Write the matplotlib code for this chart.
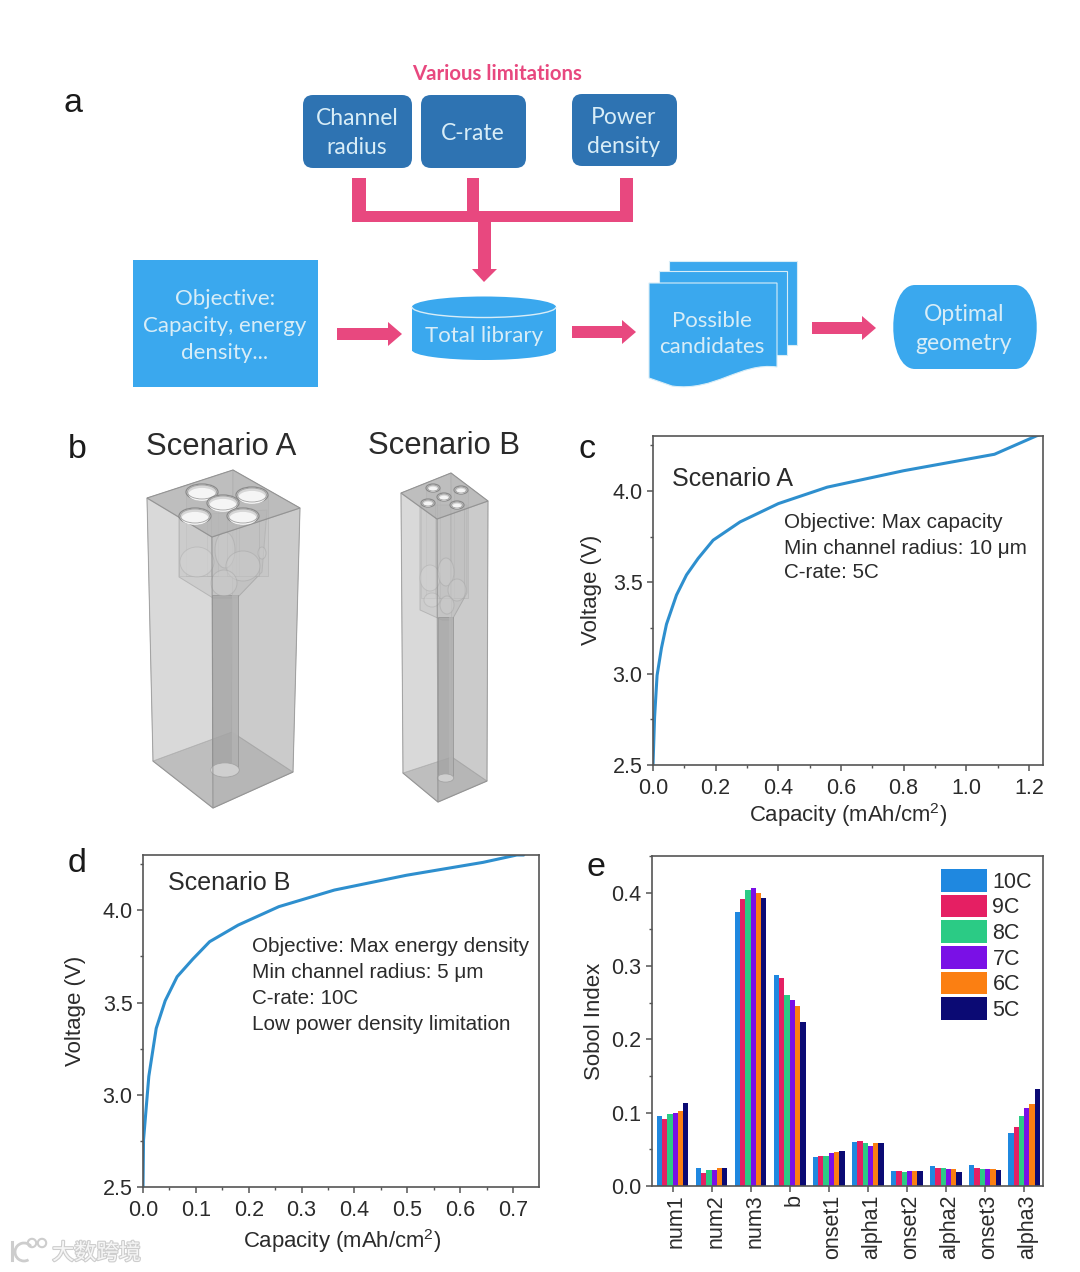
import numpy as np
import matplotlib
matplotlib.use('Agg')
import matplotlib.pyplot as plt
import matplotlib.patheffects as pe
from matplotlib.patches import Polygon, FancyBboxPatch, Ellipse, Rectangle, PathPatch, Circle, Arc
from matplotlib.path import Path
from matplotlib.transforms import ScaledTranslation

plt.rcParams['font.family'] = ['Liberation Sans', 'DejaVu Sans']
plt.rcParams['mathtext.default'] = 'regular'

W, H = 1080, 1272

# panel c curve
cap_a = [0.0, 0.005, 0.013, 0.027, 0.043, 0.075, 0.107, 0.144, 0.192, 0.278, 0.40, 0.556, 0.80, 1.09, 1.223, 1.24]
volt_a = [2.5, 2.76, 2.99, 3.14, 3.27, 3.43, 3.54, 3.63, 3.73, 3.83, 3.93, 4.02, 4.11, 4.20, 4.30, 4.31]

# panel d curve
cap_b = [0.0, 0.001, 0.011, 0.025, 0.042, 0.0645, 0.094, 0.126, 0.18, 0.257, 0.362, 0.498, 0.643, 0.707, 0.72]
volt_b = [2.5, 2.755, 3.1, 3.36, 3.51, 3.64, 3.735, 3.83, 3.92, 4.02, 4.11, 4.19, 4.26, 4.30, 4.30]

# panel e bars
params = ['num1', 'num2', 'num3', 'b', 'onset1', 'alpha1', 'onset2', 'alpha2', 'onset3', 'alpha3']
rates = ['10C', '9C', '8C', '7C', '6C', '5C']
rate_colors = ['#1f88e0', '#e51f63', '#2bcb85', '#7a10e6', '#fb7f12', '#0b0a74']
sobol_10c = [0.096, 0.025, 0.374, 0.288, 0.040, 0.060, 0.021, 0.027, 0.028, 0.072]
sobol_9c = [0.092, 0.018, 0.391, 0.283, 0.041, 0.061, 0.020, 0.025, 0.025, 0.080]
sobol_8c = [0.098, 0.022, 0.404, 0.261, 0.041, 0.058, 0.019, 0.024, 0.023, 0.095]
sobol_7c = [0.100, 0.022, 0.406, 0.254, 0.045, 0.054, 0.020, 0.023, 0.023, 0.107]
sobol_6c = [0.102, 0.024, 0.399, 0.245, 0.047, 0.058, 0.021, 0.023, 0.023, 0.112]
sobol_5c = [0.113, 0.025, 0.393, 0.223, 0.048, 0.058, 0.020, 0.019, 0.022, 0.132]

LINE = '#2e8fce'
PINK = '#e8487f'
DARK = '#2e73b2'
LIGHT = '#3aa8ee'
BOXTXT = '#d8edf7'
SPINE = '#555555'
TXT = '#2b2b2b'


def px_axes(fig, left, top, right, bottom):
    return fig.add_axes([left / W, 1 - bottom / H, (right - left) / W, (bottom - top) / H])


def style_axes(ax, xpad=5):
    for s in ax.spines.values():
        s.set_color(SPINE)
        s.set_linewidth(1.2)
    ax.tick_params(which='major', length=4.5, width=1.1, color=SPINE, labelsize=15.5, labelcolor=TXT)
    ax.tick_params(which='minor', length=2.5, width=1.0, color=SPINE)
    ax.tick_params(axis='x', which='major', pad=xpad)
    ax.tick_params(axis='y', which='major', pad=3)


def curve_panel(fig, box, cap, volt, xmax, xticks):
    ax = px_axes(fig, *box)
    ax.plot(cap, volt, color=LINE, lw=2.2, solid_capstyle='round')
    ax.set_xlim(0, xmax)
    ax.set_ylim(2.5, 4.3)
    ax.set_xticks(xticks)
    ax.set_xticklabels(['%.1f' % v for v in xticks])
    ax.set_xticks((np.array(xticks[:-1]) + np.array(xticks[1:])) / 2, minor=True)
    ax.set_yticks([2.5, 3.0, 3.5, 4.0])
    ax.set_yticks([2.75, 3.25, 3.75, 4.25], minor=True)
    style_axes(ax)
    return ax


def rbox(ax, x0, y0, x1, y1, color, r=10):
    ax.add_patch(FancyBboxPatch((x0 + r, y0 + r), x1 - x0 - 2 * r, y1 - y0 - 2 * r,
                                boxstyle='round,pad=%d,rounding_size=%d' % (r, r), fc=color, ec='none'))


def label(ax, x, y, s, size=16, color=BOXTXT, family='Lato', **kw):
    ax.text(x, y, s, fontsize=size, color=color, family=family, ha='center', va='center',
            linespacing=1.42, **kw)


def h_arrow(ax, x0, x1, y):
    ax.add_patch(Polygon([(x0, y - 6), (x1 - 14, y - 6), (x1 - 14, y - 12), (x1, y),
                          (x1 - 14, y + 12), (x1 - 14, y + 6), (x0, y + 6)], fc=PINK, ec='none'))


def draw_flow(ov):
    label(ov, 497, 74, 'Various limitations', size=14.7, color=PINK, fontweight='bold')
    rbox(ov, 303, 95, 412, 168, DARK)
    rbox(ov, 421, 95, 526, 168, DARK)
    rbox(ov, 572, 94, 677, 166, DARK)
    label(ov, 357, 133, 'Channel\nradius', size=16.5)
    label(ov, 473, 134, 'C-rate', size=16.5)
    label(ov, 624, 132, 'Power\ndensity', size=16.5)

    for x0, x1 in [(352, 366), (467, 479), (620, 633)]:
        ov.add_patch(Rectangle((x0, 178), x1 - x0, 44, fc=PINK, ec='none'))
    ov.add_patch(Rectangle((352, 211), 281, 11, fc=PINK, ec='none'))
    ov.add_patch(Polygon([(478, 222), (491, 222), (491, 269), (497, 269), (484, 282), (472, 269), (478, 269)],
                         fc=PINK, ec='none'))

    ov.add_patch(Rectangle((133, 260), 185, 127, fc=LIGHT, ec='none'))
    label(ov, 225, 326, 'Objective:\nCapacity, energy\ndensity...', size=16)

    # cylinder
    ov.add_patch(Rectangle((412, 307), 144, 44, fc=LIGHT, ec='none'))
    ov.add_patch(Ellipse((484, 350), 144, 20, fc=LIGHT, ec='none'))
    ov.add_patch(Ellipse((484, 307), 144, 21, fc=LIGHT, ec='none'))
    ov.add_patch(Arc((484, 307), 144, 21, theta1=0, theta2=180, color='#d8edf7', lw=1.0))
    label(ov, 484, 336, 'Total library', size=16)

    # stacked pages
    ov.add_patch(Rectangle((669, 261), 128, 84, fc=LIGHT, ec='#d8edf7', lw=0.8))
    ov.add_patch(Rectangle((659, 271), 128, 84, fc=LIGHT, ec='#d8edf7', lw=0.8))
    codes = [Path.MOVETO, Path.LINETO, Path.LINETO, Path.CURVE4, Path.CURVE4, Path.CURVE4, Path.LINETO, Path.CLOSEPOLY]
    verts = [(649, 283), (777, 283), (777, 367), (740, 362), (715, 392), (672, 386), (649, 378), (649, 283)]
    ov.add_patch(PathPatch(Path(verts, codes), fc=LIGHT, ec='#d8edf7', lw=0.8))
    label(ov, 712, 334, 'Possible\ncandidates', size=16)

    # display shape
    verts = [(915, 285), (1015, 285), (1044, 285), (1044, 369), (1015, 369), (915, 369), (886, 369), (886, 285), (915, 285), (915, 285)]
    codes = [Path.MOVETO, Path.LINETO, Path.CURVE4, Path.CURVE4, Path.CURVE4, Path.LINETO,
             Path.CURVE4, Path.CURVE4, Path.CURVE4, Path.CLOSEPOLY]
    ov.add_patch(PathPatch(Path(verts, codes), fc=LIGHT, ec='none'))
    label(ov, 964, 329, 'Optimal\ngeometry', size=16.5)

    h_arrow(ov, 337, 402, 334)
    h_arrow(ov, 572, 636, 332)
    h_arrow(ov, 812, 876, 328)


def draw_box(ov, top, bottom, circles, rx, ry, tube, head, blobs):
    back, left, front, right = top
    bleft, bfront, bright, bback = bottom
    edge = '#8c8c8c'
    # back faces + floor
    ov.add_patch(Polygon([bleft, bfront, bright, bback], fc='#a8a8a8', ec=edge, lw=0.8, alpha=0.9))
    ov.add_patch(Polygon([left, back, bback, bleft], fc='#e2e2e2', ec=edge, lw=0.5, alpha=0.8))
    ov.add_patch(Polygon([back, right, bright, bback], fc='#d4d4d4', ec=edge, lw=0.5, alpha=0.8))
    # tube and head
    ov.add_patch(Polygon(head, fc='#c2c2c2', ec='#858585', lw=0.7, alpha=0.7))
    tx0, tx1, ty0, ty1 = tube
    ov.add_patch(Rectangle((tx0, ty0), tx1 - tx0, ty1 - ty0, fc='#8f8f8f', ec='#6f6f6f', lw=0.7, alpha=0.8))
    ov.add_patch(Rectangle((tx0 + (tx1 - tx0) * 0.75, ty0), (tx1 - tx0) * 0.25, ty1 - ty0, fc='#b0b0b0', ec='none', alpha=0.7))
    ov.add_patch(Ellipse(((tx0 + tx1) / 2, ty1), (tx1 - tx0) * 1.1, (tx1 - tx0) * 0.55, fc='#e3e3e3', ec='#8c8c8c', lw=0.6))
    # channels
    head_y = max(p[1] for p in head) - 22
    for cx, cy in circles:
        ov.add_patch(Rectangle((cx - rx, cy), 2 * rx, head_y - cy, fc='#c9c9c9', ec='#909090', lw=0.6, alpha=0.45))
    # junction of the channels
    for bx, by, bw_, bh in blobs:
        ov.add_patch(Ellipse((bx, by), bw_, bh, fc='#dcdcdc', ec='#8e8e8e', lw=0.7, alpha=0.5))
    # front faces
    ov.add_patch(Polygon([left, front, bfront, bleft], fc='#cdcdcd', ec=edge, lw=0.8, alpha=0.5))
    ov.add_patch(Polygon([front, right, bright, bfront], fc='#bcbcbc', ec=edge, lw=0.8, alpha=0.5))
    ov.add_patch(Polygon([back, left, front, right], fc='#b4b4b4', ec=edge, lw=0.8, alpha=0.8))
    for cx, cy in circles:
        ov.add_patch(Ellipse((cx, cy), 2 * rx, 2 * ry, fc='#d6d6d6', ec='#8a8a8a', lw=0.9))
        ov.add_patch(Ellipse((cx, cy + ry * 0.3), 2 * rx - 5, 2 * ry - 3, fc='#f5f5f5', ec='none'))
        ov.add_patch(Ellipse((cx, cy), 2 * rx - 3, 2 * ry - 2, fc='none', ec='#a0a0a0', lw=0.6))


def draw_watermark(ov):
    grey = '#cdcdcd'
    ov.plot([12, 12], [1242, 1260], color=grey, lw=2.2)
    ov.add_patch(Arc((24, 1252), 18, 18, theta1=60, theta2=320, color=grey, lw=2.0))
    for cx, cy in [(32, 1243), (42, 1243)]:
        ov.add_patch(Circle((cx, cy), 4.2, fc='none', ec=grey, lw=1.5))
    t = ov.text(52, 1253, '大数跨境', fontsize=16, color='#f6f6f6', family=['Noto Sans CJK SC', 'DejaVu Sans'],
                ha='left', va='center')
    t.set_path_effects([pe.withStroke(linewidth=1.6, foreground=grey)])


fig = plt.figure(figsize=(W / 100, H / 100), dpi=100, facecolor='white')

# c
ax_c = curve_panel(fig, (653, 436, 1043, 765), cap_a, volt_a, 1.245, [0.0, 0.2, 0.4, 0.6, 0.8, 1.0, 1.2])
# d
ax_d = curve_panel(fig, (143, 855, 539, 1187), cap_b, volt_b, 0.749, [0.0, 0.1, 0.2, 0.3, 0.4, 0.5, 0.6, 0.7])

# e
ax_e = px_axes(fig, 652, 856, 1043, 1186)
series = [sobol_10c, sobol_9c, sobol_8c, sobol_7c, sobol_6c, sobol_5c]
xpos = np.arange(len(params))
bw = 0.135
for i, vals in enumerate(series):
    ax_e.bar(xpos + (i - 2.5) * bw, vals, bw, color=rate_colors[i], label=rates[i])
ax_e.set_xlim(-0.525, 9.485)
ax_e.set_ylim(0, 0.45)
ax_e.set_xticks(xpos)
ax_e.set_xticklabels(params, rotation=90)
ax_e.set_yticks([0.0, 0.1, 0.2, 0.3, 0.4])
ax_e.set_yticks([0.05, 0.15, 0.25, 0.35, 0.45], minor=True)
style_axes(ax_e, xpad=1.5)
# rotated labels sit a little left of their tick otherwise
for lab in ax_e.get_xticklabels():
    lab.set_transform(lab.get_transform() + ScaledTranslation(0.04, 0, fig.dpi_scale_trans))
ax_e.legend(loc='upper left', bbox_to_anchor=(0.739, 0.9606), frameon=False, fontsize=15.5,
            handlelength=2.14, handleheight=1.234, labelspacing=0.1, handletextpad=0.25,
            borderpad=0, borderaxespad=0, labelcolor=TXT)

# overlay in pixel coordinates for the diagram and free text
ov = fig.add_axes([0, 0, 1, 1], zorder=5)
ov.set_xlim(0, W)
ov.set_ylim(H, 0)
ov.axis('off')
ov.patch.set_alpha(0)

draw_flow(ov)

draw_box(ov, [(233, 470), (147, 498), (212, 537), (300, 508)],
         [(153, 761), (213, 808), (293, 772), (232, 732)],
         [(202, 492), (252, 495), (223, 503), (195, 516), (243, 516)], 16, 8,
         (212, 238, 595, 770),
         [(179, 516), (267, 510), (262, 572), (237, 598), (213, 598), (179, 577)],
         [(197, 562, 34, 30), (225, 550, 20, 36), (243, 566, 34, 30), (262, 553, 8, 12), (224, 583, 26, 26)])
draw_box(ov, [(451, 473), (401, 493), (437, 519), (488, 501)],
         [(403, 773), (438, 802), (487, 781), (452, 757)],
         [(433, 488), (461, 490), (444, 497), (428, 503), (457, 505)], 7, 4,
         (438, 453, 617, 778),
         [(420, 505), (467, 505), (467, 593), (452, 620), (442, 620), (420, 610)],
         [(430, 578, 20, 26), (446, 572, 16, 28), (457, 590, 18, 22), (432, 600, 16, 14), (447, 605, 14, 18)])

for s, x, y in [('a', 73, 104), ('b', 77, 449), ('c', 587, 450), ('d', 77, 864), ('e', 596, 867)]:
    ov.text(x, y, s, fontsize=24.5, color='#1a1a1a', ha='center', va='center')

ov.text(221, 447, 'Scenario A', fontsize=22.3, color=TXT, ha='center', va='center')
ov.text(444, 446, 'Scenario B', fontsize=22.3, color=TXT, ha='center', va='center')
ov.text(672, 479, 'Scenario A', fontsize=18, color=TXT, ha='left', va='center')
ov.text(168, 883, 'Scenario B', fontsize=18, color=TXT, ha='left', va='center')

for s, y in [('Objective: Max capacity', 523), ('Min channel radius: 10 μm', 548), ('C-rate: 5C', 573)]:
    ov.text(784, y, s, fontsize=14.9, color=TXT, ha='left', va='center')
for s, y in [('Objective: Max energy density', 947), ('Min channel radius: 5 μm', 973),
             ('C-rate: 10C', 998), ('Low power density limitation', 1024)]:
    ov.text(252, y, s, fontsize=14.9, color=TXT, ha='left', va='center')

ov.text(848, 815, 'Capacity (mAh/cm$^2$)', fontsize=15.9, color=TXT, ha='center', va='center')
ov.text(342, 1241, 'Capacity (mAh/cm$^2$)', fontsize=15.9, color=TXT, ha='center', va='center')
ov.text(592, 590, 'Voltage (V)', fontsize=16, color=TXT, rotation=90, ha='center', va='center')
ov.text(75, 1011, 'Voltage (V)', fontsize=16, color=TXT, rotation=90, ha='center', va='center')
ov.text(594, 1021, 'Sobol Index', fontsize=16, color=TXT, rotation=90, ha='center', va='center')

draw_watermark(ov)

fig.savefig('out.png', dpi=100)
